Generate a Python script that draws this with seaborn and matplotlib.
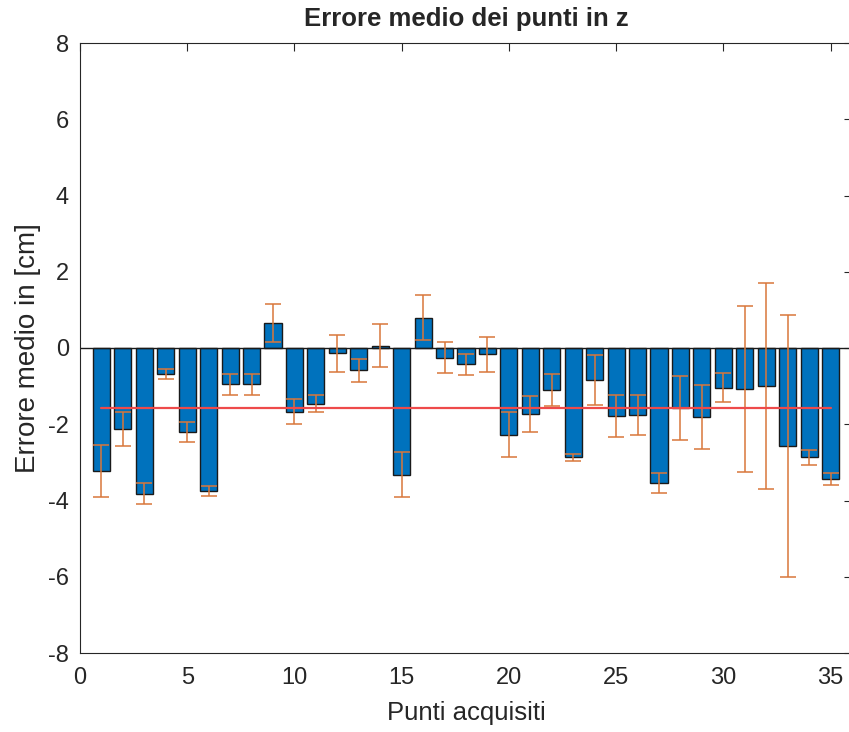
import numpy as np
import pandas as pd
import matplotlib
matplotlib.use("Agg")
import matplotlib.pyplot as plt
import seaborn as sns

# Mean z-error for each acquired point and its spread
punti = list(range(1, 36))
errore_medio = [-3.23, -2.12, -3.82, -0.67, -2.20, -3.75, -0.95, -0.95, 0.65, -1.67,
                -1.46, -0.14, -0.59, 0.06, -3.32, 0.80, -0.25, -0.43, -0.17, -2.27,
                -1.74, -1.10, -2.87, -0.84, -1.78, -1.75, -3.55, -1.57, -1.82, -1.04,
                -1.08, -1.00, -2.57, -2.87, -3.44]
deviazione = [0.68, 0.45, 0.28, 0.13, 0.27, 0.12, 0.27, 0.27, 0.50, 0.33,
              0.22, 0.48, 0.30, 0.57, 0.58, 0.60, 0.40, 0.28, 0.47, 0.60,
              0.47, 0.42, 0.10, 0.66, 0.56, 0.53, 0.26, 0.84, 0.84, 0.38,
              2.17, 2.70, 3.43, 0.20, 0.15]

df = pd.DataFrame({"punto": punti, "errore": errore_medio, "dev": deviazione})
media = float(np.mean(errore_medio))

sns.set_style("white")
plt.rcParams["font.family"] = ["Liberation Sans", "DejaVu Sans"]
plt.rcParams["axes.unicode_minus"] = False

fig = plt.figure(figsize=(8.49, 7.32), dpi=100)
ax = fig.add_axes([80 / 849, 79 / 732, 772 / 849, 610 / 732])

sns.barplot(data=df, x="punto", y="errore", native_scale=True, width=0.8,
            color="#0072BD", saturation=1, edgecolor="#1a1a1a", linewidth=1.0,
            errorbar=None, ax=ax)

ax.errorbar(df["punto"], df["errore"], yerr=df["dev"], fmt="none",
            ecolor="#D9773A", elinewidth=1.1, capsize=6, capthick=1.1, zorder=3)

# zero baseline and overall mean
ax.axhline(0, color="#1a1a1a", linewidth=1.0, zorder=2)
ax.plot([punti[0], punti[-1]], [media, media], color="#EE4A4A", linewidth=1.6, zorder=4)

ax.set_xlim(0, 36)
ax.set_ylim(-8, 8)
ax.set_xticks(range(0, 36, 5))
ax.set_yticks(range(-8, 9, 2))

for side in ax.spines.values():
    side.set_color("#262626")
    side.set_linewidth(0.8)
ax.tick_params(direction="in", top=True, right=True, length=5.5, width=0.8,
               color="#262626", labelcolor="#262626", labelsize=17)
ax.tick_params(axis="x", pad=10)
ax.tick_params(axis="y", pad=8)

ax.set_title("Errore medio dei punti in z", fontsize=18.5, fontweight="bold", pad=12)
ax.set_xlabel("Punti acquisiti", fontsize=18.5, color="#262626", labelpad=9)
ax.set_ylabel("Errore medio in [cm]", fontsize=20, color="#262626", labelpad=5)

fig.savefig("out.png", dpi=100, facecolor="white")
